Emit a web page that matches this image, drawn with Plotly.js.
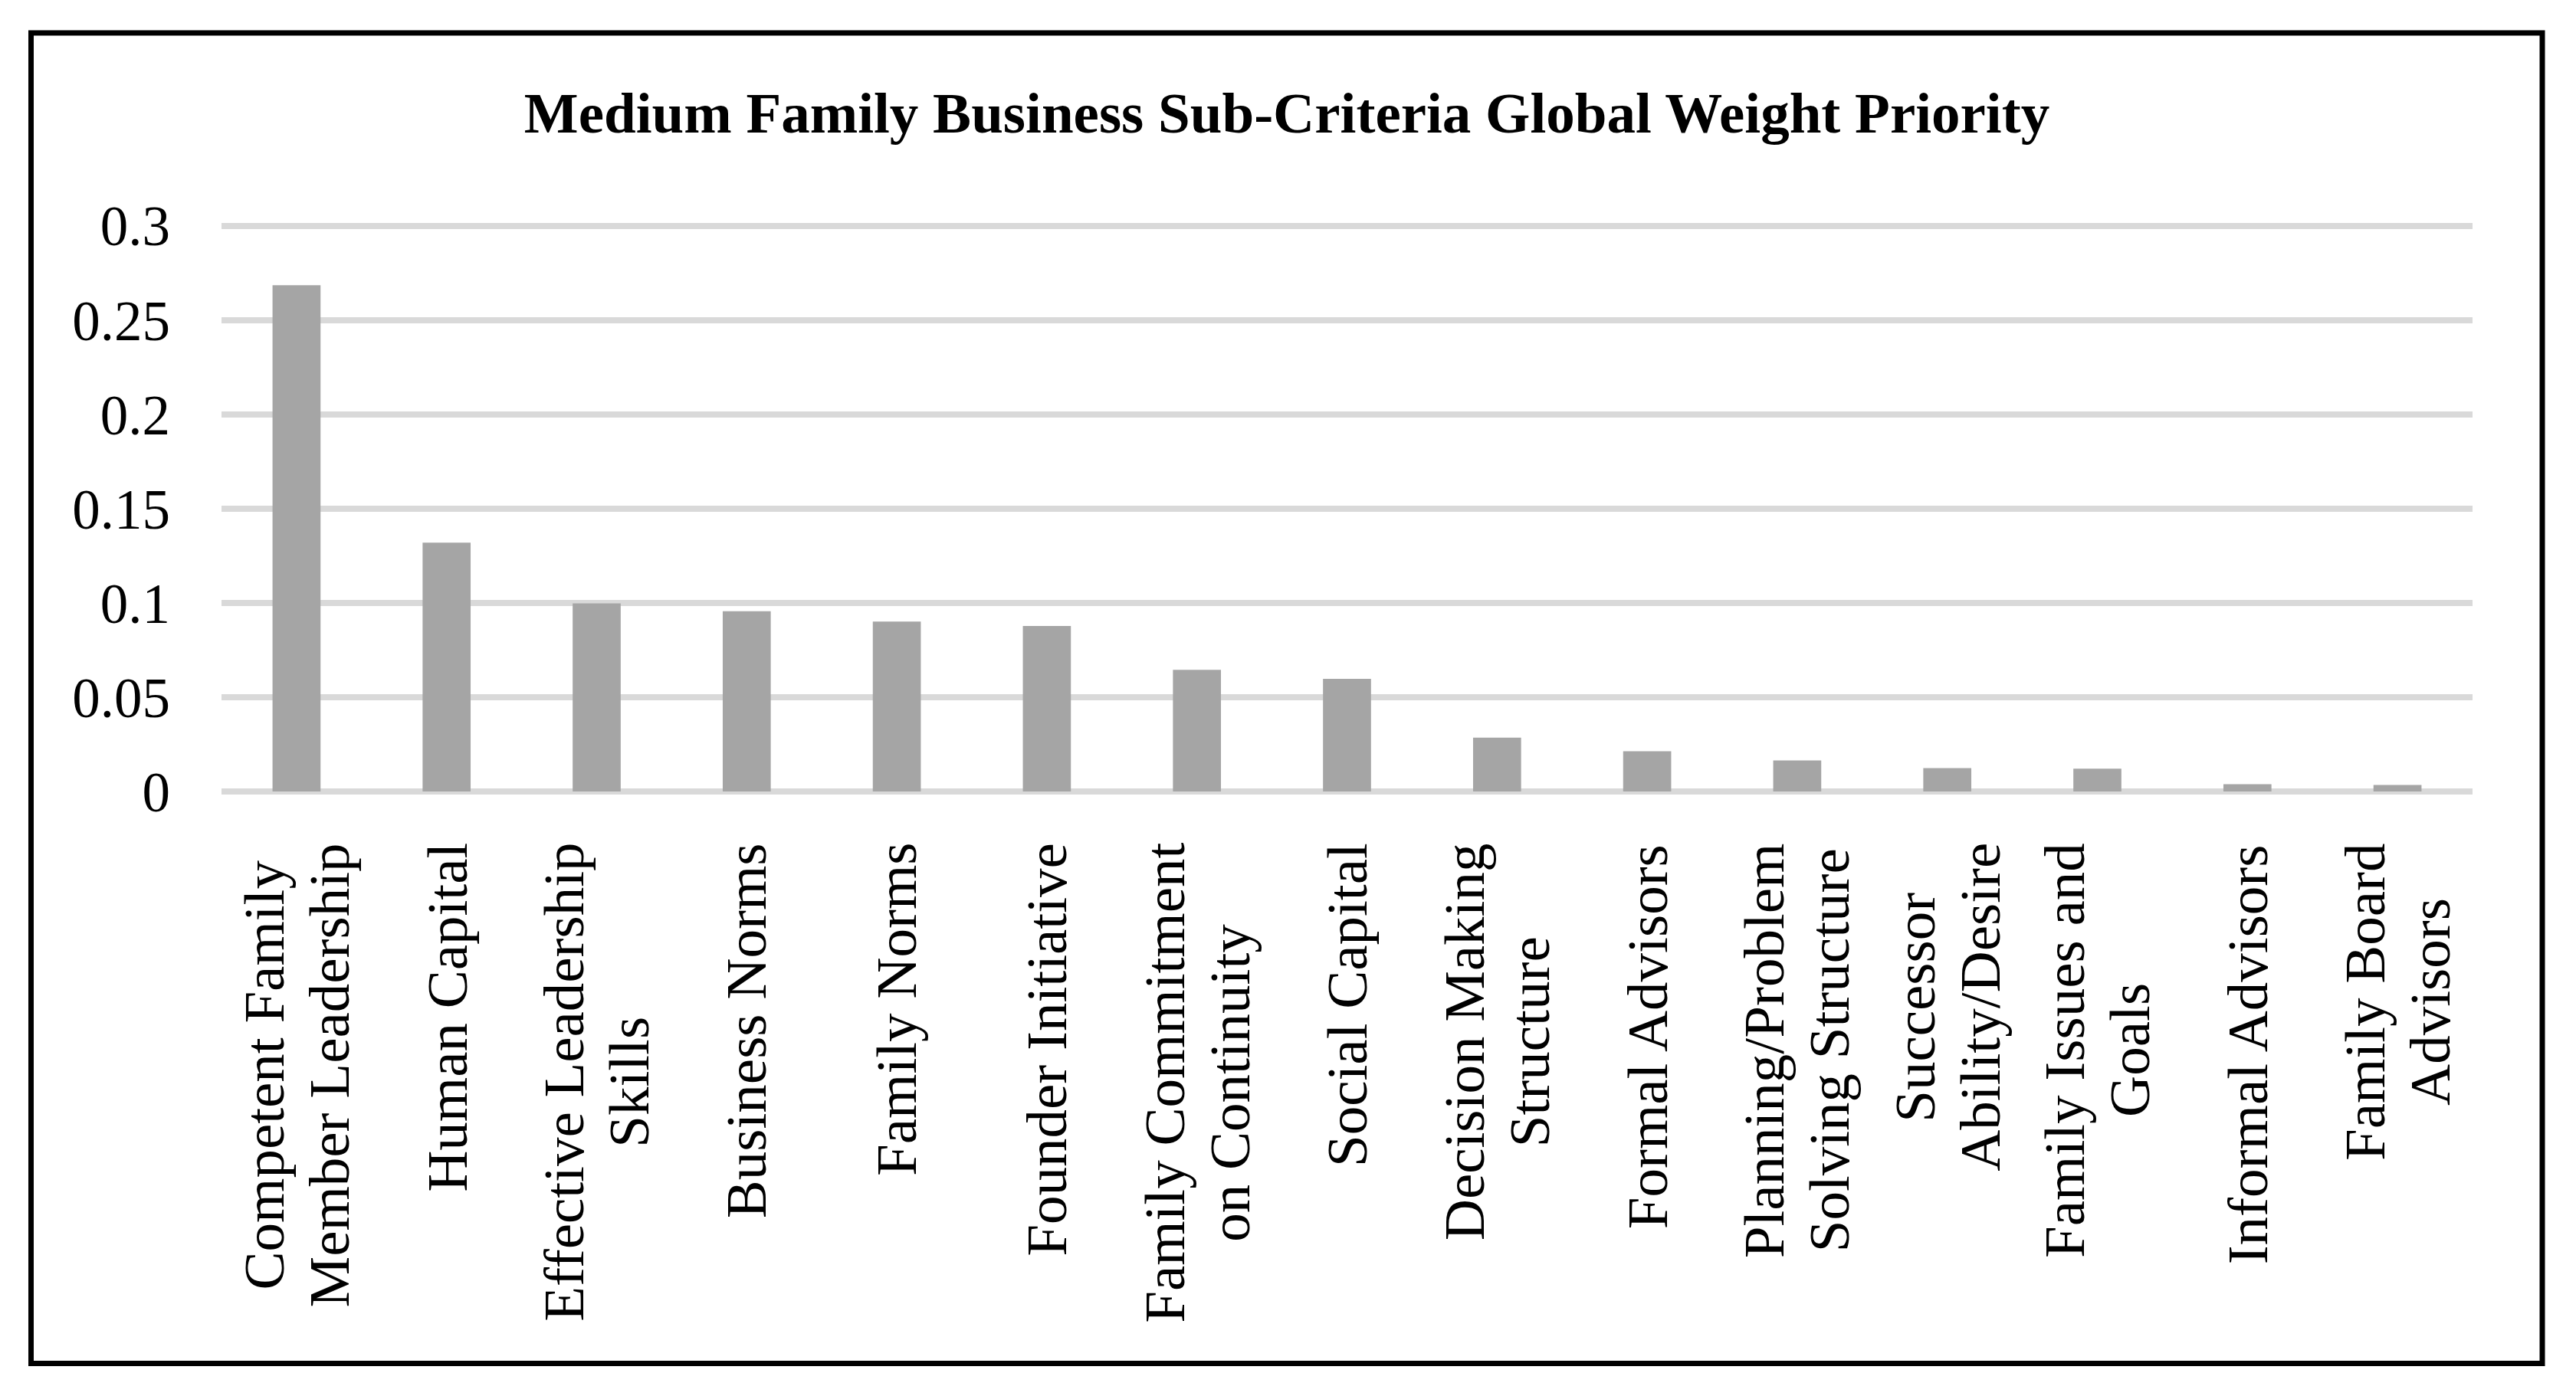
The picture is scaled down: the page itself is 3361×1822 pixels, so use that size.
<!DOCTYPE html>
<html>
<head>
<meta charset="utf-8">
<script src="https://cdn.plot.ly/plotly-3.0.1.min.js"></script>
<style>
  html, body { margin: 0; padding: 0; background: #fff; }
  #graph { width: 3361px; height: 1822px; }
</style>
</head>
<body>
<div id="graph"></div>
<script>
// sub-criteria, in the order of the chart
let categories = [
	'Competent Family Member Leadership',
	'Human Capital',
	'Effective Leadership Skills',
	'Business Norms',
	'Family Norms',
	'Founder Initiative',
	'Family Commitment on Continuity',
	'Social Capital',
	'Decision Making Structure',
	'Formal Advisors',
	'Planning/Problem Solving Structure',
	'Successor Ability/Desire',
	'Family Issues and Goals',
	'Informal Advisors',
	'Family Board Advisors'
];

// the labels are wrapped on two lines like in the source
let tickLabels = [
	'Competent Family<br>Member Leadership',
	'Human Capital',
	'Effective Leadership<br>Skills',
	'Business Norms',
	'Family Norms',
	'Founder Initiative',
	'Family Commitment<br>on Continuity',
	'Social Capital',
	'Decision Making<br>Structure',
	'Formal Advisors',
	'Planning/Problem<br>Solving Structure',
	'Successor<br>Ability/Desire',
	'Family Issues and<br>Goals',
	'Informal Advisors',
	'Family Board<br>Advisors'
];

let weights = [0.2686, 0.132, 0.0998, 0.0956, 0.0902, 0.0878, 0.0646, 0.0598,
	0.0286, 0.0214, 0.0165, 0.0124, 0.0121, 0.0039, 0.0035];

let yTicks = [0, 0.05, 0.1, 0.15, 0.2, 0.25, 0.3];
let yTickText = ['0', '0.05', '0.1', '0.15', '0.2', '0.25', '0.3'];

var serif = 'Liberation Serif, Times New Roman, serif';
var labelSize = 75;
var lineGap = 85;     // distance between the two lines of a label
var labelTop = 67;    // from the zero line down to the start of the longest line

var trace = {
	x : categories,
	y : weights,
	type : 'bar',
	marker : {color : '#A5A5A5'},
	hoverinfo : 'x+y'
};

// measure the lines so that they are centred on each other like in Excel
var ctx = document.createElement('canvas').getContext('2d');
ctx.font = labelSize + 'px "Liberation Serif"';

var labels = [];
for (let i = 0; i < categories.length; i++){
	let lines = tickLabels[i].split('<br>');
	let longest = 0;
	for (let k = 0; k < lines.length; k++){
		longest = Math.max(longest, ctx.measureText(lines[k]).width);
	}
	for (let k = 0; k < lines.length; k++){
		labels.push({
			x : categories[i],
			y : 0,
			xref : 'x',
			yref : 'y',
			text : lines[k],
			textangle : -90,
			showarrow : false,
			xanchor : 'center',
			yanchor : 'middle',
			xshift : (k - (lines.length - 1)/2)*lineGap,
			yshift : -(labelTop + longest/2),
			font : {family : serif, size : labelSize, color : '#000'}
		});
	}
}

var plotL = 289, plotR = 3226, plotT = 290, plotB = 1038;
var pw = plotR - plotL, ph = plotB - plotT;

var layout = {
	width : 3361,
	height : 1822,
	paper_bgcolor : '#fff',
	plot_bgcolor : '#fff',
	margin : {l : plotL, r : 3361 - plotR, t : plotT, b : 1822 - plotB, pad : 0},
	showlegend : false,
	bargap : 0.68,
	title : {
		text : '<b>Medium Family Business Sub-Criteria Global Weight Priority</b>',
		font : {family : serif, size : 75, color : '#000'},
		x : 1679/3361,
		xref : 'container',
		xanchor : 'center',
		y : 1 - 147/1822,
		yref : 'container',
		yanchor : 'middle'
	},
	xaxis : {
		type : 'category',
		showticklabels : false,
		showgrid : false,
		ticks : '',
		showline : false,
		zeroline : false
	},
	yaxis : {
		range : [-0.002, 0.302],
		tickvals : yTicks,
		ticktext : yTickText,
		tickfont : {family : serif, size : 73, color : '#000'},
		showgrid : true,
		gridcolor : '#D9D9D9',
		gridwidth : 8,
		zeroline : false,
		showline : false,
		ticks : '',
		ticklabelstandoff : 66,
		automargin : false
	},
	annotations : labels,
	shapes : [{
		type : 'rect',
		xref : 'paper',
		yref : 'paper',
		x0 : (40.5 - plotL)/pw,
		x1 : (3317 - plotL)/pw,
		y0 : (plotB - 1779.5)/ph,
		y1 : (plotB - 43)/ph,
		line : {color : '#000', width : 7},
		fillcolor : 'rgba(0,0,0,0)',
		layer : 'above'
	}]
};

Plotly.newPlot('graph', [trace], layout, {displayModeBar : false, staticPlot : true});
</script>
</body>
</html>
